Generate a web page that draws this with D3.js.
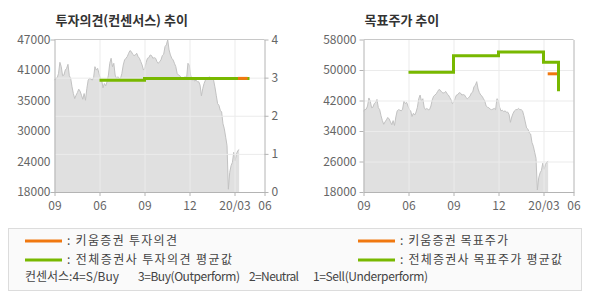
<!DOCTYPE html>
<html>
<head>
<meta charset="utf-8">
<script src="https://cdn.jsdelivr.net/npm/d3@7"></script>
<style>
  body { margin: 0; background: #fff; }
  svg text { font-family: "Noto Sans CJK KR", "DejaVu Sans", sans-serif; }
</style>
</head>
<body>
<div id="chart"></div>
<script>
// x axis (months from start of window)
var xTickMonths = [0, 3, 6, 9, 12, 14];
var xTickLabels = ["09", "06", "09", "12", "20/03", "06"];

// daily close, sampled evenly from month 0 to priceEndMonth
var priceEndMonth = 12.31;
var prices = [39280, 39600, 39720, 40550, 42660, 41830, 40110, 40230, 41190, 41510,
    42280, 40110, 39600, 38000, 36720, 35770, 36400, 36920, 37550, 37170,
    36400, 35640, 36720, 35450, 37680, 39280, 39600, 39470, 39280, 39720,
    41830, 41190, 41510, 40550, 39600, 39280, 37810, 38640, 38190, 38960,
    40230, 42470, 43430, 41830, 42470, 40230, 39600, 39920, 39600, 39600,
    40550, 42150, 43110, 43430, 43750, 44380, 44890, 44700, 44190, 43940,
    44060, 44380, 43750, 43430, 42790, 42150, 41190, 41510, 42660, 43430,
    43550, 44060, 43940, 43430, 43550, 43430, 42790, 42470, 42790, 43110,
    43940, 44190, 45660, 45980, 46940, 45020, 44060, 43430, 43110, 42470,
    41830, 40550, 40230, 40110, 39720, 39600, 39720, 39920, 39600, 42470,
    42150, 40230, 39280, 39470, 39090, 39280, 38960, 38960, 38320, 36280,
    37680, 38640, 39280, 39600, 39600, 39920, 39600, 39600, 39280, 38000,
    36400, 34810, 34490, 33530, 33210, 30980, 30020, 28430, 26830, 18530,
    21720, 23000, 23640, 25550, 23960, 25230, 25870, 26060];

// left chart: opinion (0-4)
var opinionTicks = [0, 1, 2, 3, 4];
var leftPriceLabels = ["47000", "41000", "35000", "30000", "24000", "18000"];
var consensusMonths = [3, 6, 13];
var consensusValues = [2.93, 2.98, 2.98];
var kiwoomOpinionMonths = [12.23, 12.87];
var kiwoomOpinionValues = [2.98, 2.98];

// right chart: target price
var targetTicks = [18000, 26000, 34000, 42000, 50000, 58000];
var avgTargetMonths = [3, 6, 9, 12, 13];
var avgTargetValues = [49400, 53750, 54720, 52020, 44400];
var kiwoomTargetMonths = [12.28, 12.9];
var kiwoomTargetValues = [49000, 49000];

var GREEN = "#78b800", ORANGE = "#f07810", AXIS = "#b4b4b4", GRID = "#ebebeb", TXT = "#666";

var svg = d3.select("#chart").append("svg")
    .attr("width", 590)
    .attr("height", 300);

var plotTop = 39.5, plotBottom = 192, plotW = 210;

var priceData = prices.map(function (p, i) {
    return [i * priceEndMonth / (prices.length - 1), p];
});

function drawPanel(left, title, priceDomain) {
    var g = svg.append("g").attr("transform", "translate(" + left + ",0)");

    var x = d3.scaleLinear().domain([0, 14]).range([0, plotW]);
    var yP = d3.scaleLinear().domain(priceDomain).range([plotBottom, plotTop]);

    g.append("text")
        .attr("x", 1).attr("y", 25)
        .style("font-size", "13px").style("font-weight", "bold").style("fill", "#333")
        .text(title);

    var area = d3.area()
        .x(function (d) { return x(d[0]); })
        .y0(plotBottom)
        .y1(function (d) { return yP(d[1]); });
    var line = d3.line()
        .x(function (d) { return x(d[0]); })
        .y(function (d) { return yP(d[1]); });

    g.append("path").datum(priceData).attr("d", area).attr("fill", "#e0e0e0");
    g.append("path").datum(priceData).attr("d", line)
        .attr("fill", "none").attr("stroke", "#c2c2c2").attr("stroke-width", 1);

    // vertical grid
    g.selectAll(".vgrid").data(xTickMonths.slice(1, -1)).enter()
        .append("line").attr("class", "vgrid")
        .attr("x1", function (d) { return x(d) + 0.5; })
        .attr("x2", function (d) { return x(d) + 0.5; })
        .attr("y1", plotTop).attr("y2", plotBottom)
        .attr("stroke", GRID);

    var xAxis = g.append("g")
        .attr("transform", "translate(0," + plotBottom + ")")
        .call(d3.axisBottom(x).tickValues(xTickMonths).tickSize(4).tickSizeOuter(0)
            .tickFormat(function (d, i) { return xTickLabels[i]; }));
    xAxis.selectAll("text").style("font-size", "12px").style("fill", TXT).attr("dy", "0.9em");
    xAxis.selectAll("line").attr("stroke", AXIS);
    xAxis.select(".domain").attr("stroke", AXIS);

    // top border
    g.append("line").attr("x1", 0).attr("x2", plotW)
        .attr("y1", plotTop).attr("y2", plotTop).attr("stroke", "#c8c8c8");

    return { g: g, x: x, yP: yP };
}

function styleAxis(a) {
    a.selectAll("text").style("font-size", "12px").style("fill", TXT);
    a.selectAll("line").attr("stroke", AXIS);
    a.select(".domain").attr("stroke", AXIS);
}

// ---- left panel: opinion
var L = drawPanel(54.5, "투자의견(컨센서스) 추이", [18000, 47000]);
var yO = d3.scaleLinear().domain([0, 4]).range([plotBottom, plotTop]);

L.g.selectAll(".hgrid").data(opinionTicks.slice(1, -1)).enter()
    .append("line").attr("class", "hgrid")
    .attr("x1", 0).attr("x2", plotW)
    .attr("y1", function (d) { return yO(d) + 0.5; })
    .attr("y2", function (d) { return yO(d) + 0.5; })
    .attr("stroke", GRID);

var lAxis = L.g.append("g").call(d3.axisLeft(yO).tickValues([]).tickSizeOuter(4));
styleAxis(lAxis);
var labelScale = d3.scalePoint().domain(leftPriceLabels).range([plotTop, plotBottom]);
L.g.selectAll(".plabel").data(leftPriceLabels).enter()
    .append("text").attr("class", "plabel")
    .attr("x", -4).attr("y", function (d) { return labelScale(d); })
    .attr("dy", "0.35em").attr("text-anchor", "end")
    .style("font-size", "12px").style("fill", TXT)
    .text(function (d) { return d; });

var rAxis = L.g.append("g").attr("transform", "translate(" + plotW + ",0)")
    .call(d3.axisRight(yO).tickValues(opinionTicks).tickSize(4).tickSizeOuter(0)
        .tickFormat(d3.format("d")));
styleAxis(rAxis);

var stepO = d3.line().curve(d3.curveStepAfter)
    .x(function (d) { return L.x(d[0]); })
    .y(function (d) { return yO(d[1]); });
L.g.append("path").datum(d3.zip(consensusMonths, consensusValues)).attr("d", stepO)
    .attr("fill", "none").attr("stroke", GREEN).attr("stroke-width", 3);
L.g.append("path").datum(d3.zip(kiwoomOpinionMonths, kiwoomOpinionValues)).attr("d", stepO)
    .attr("fill", "none").attr("stroke", ORANGE).attr("stroke-width", 3);

// ---- right panel: target price
var R = drawPanel(363.5, "목표주가 추이", [18000, 58000]);

R.g.selectAll(".hgrid").data(targetTicks.slice(1, -1)).enter()
    .append("line").attr("class", "hgrid")
    .attr("x1", 0).attr("x2", plotW)
    .attr("y1", function (d) { return R.yP(d) + 0.5; })
    .attr("y2", function (d) { return R.yP(d) + 0.5; })
    .attr("stroke", GRID);

var tAxis = R.g.append("g")
    .call(d3.axisLeft(R.yP).tickValues(targetTicks).tickSize(4).tickSizeOuter(0)
        .tickFormat(d3.format("d")));
styleAxis(tAxis);
var trAxis = R.g.append("g").attr("transform", "translate(" + plotW + ",0)")
    .call(d3.axisRight(R.yP).tickValues([]).tickSizeOuter(0));
styleAxis(trAxis);

var stepT = d3.line().curve(d3.curveStepAfter)
    .x(function (d) { return R.x(d[0]); })
    .y(function (d) { return R.yP(d[1]); });
R.g.append("path").datum(d3.zip(avgTargetMonths, avgTargetValues)).attr("d", stepT)
    .attr("fill", "none").attr("stroke", GREEN).attr("stroke-width", 3);
R.g.append("path").datum(d3.zip(kiwoomTargetMonths, kiwoomTargetValues)).attr("d", stepT)
    .attr("fill", "none").attr("stroke", ORANGE).attr("stroke-width", 3);

// ---- legend
var legend = svg.append("g");
legend.append("rect")
    .attr("x", 8.5).attr("y", 228.5).attr("width", 573).attr("height", 62)
    .attr("fill", "#fafafa").attr("stroke", "#dcdcdc");

var legendItems = [
    { x: 25, y: 241, color: ORANGE, label: ": 키움증권 투자의견", w: 110 },
    { x: 25, y: 260, color: GREEN, label: ": 전체증권사 투자의견 평균값", w: 165 },
    { x: 358, y: 241, color: ORANGE, label: ": 키움증권 목표주가", w: 108 },
    { x: 358, y: 260, color: GREEN, label: ": 전체증권사 목표주가 평균값", w: 162 }
];
legendItems.forEach(function (d) {
    legend.append("line")
        .attr("x1", d.x).attr("x2", d.x + 37)
        .attr("y1", d.y).attr("y2", d.y)
        .attr("stroke", d.color).attr("stroke-width", 3);
    legend.append("text")
        .attr("x", d.x + 42).attr("y", d.y).attr("dy", "0.35em")
        .attr("textLength", d.w).attr("lengthAdjust", "spacing")
        .style("font-size", "12px").style("fill", "#444")
        .text(d.label);
});

var footer = [
    { x: 25, w: 94, t: "컨센서스:4=S/Buy" },
    { x: 138, w: 102, t: "3=Buy(Outperform)" },
    { x: 249, w: 50, t: "2=Neutral" },
    { x: 313, w: 115, t: "1=Sell(Underperform)" }
];
footer.forEach(function (d) {
    legend.append("text")
        .attr("x", d.x).attr("y", 277).attr("dy", "0.35em")
        .attr("textLength", d.w).attr("lengthAdjust", "spacing")
        .style("font-size", "12px").style("fill", "#444")
        .text(d.t);
});
</script>
</body>
</html>
